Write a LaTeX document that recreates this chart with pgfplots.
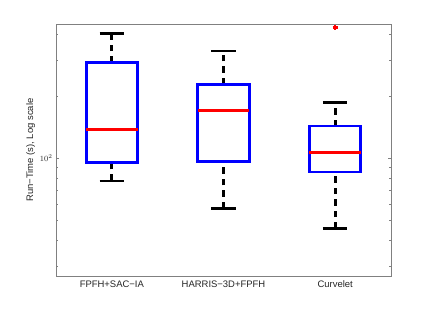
\documentclass[border=0pt]{standalone}
\usepackage{fontspec}
\setmainfont{Liberation Sans}
\usepackage{pgfplots}
\pgfplotsset{compat=1.18}
\definecolor{boxblue}{HTML}{0000FF}
\definecolor{medred}{HTML}{FF0000}
\definecolor{frame}{HTML}{808080}
\tikzset{
  wdash/.style={black, line width=2.7pt, dash pattern=on 6.5pt off 5pt},
  wcap/.style={black, line width=2.9pt},
  bbox/.style={boxblue, line width=2.9pt, line join=miter},
  bmed/.style={medred, line width=2.9pt},
}
\begin{document}
\begin{tikzpicture}
\path[use as bounding box] (0bp,0bp) rectangle (432bp,325bp);
\begin{axis}[
  at={(56bp,49bp)}, anchor=south west,
  scale only axis, width=335bp, height=252bp,
  ymode=log, ymin=26.8, ymax=449,
  xmin=0.5, xmax=3.5,
  xtick={1,2,3},
  xticklabels={FPFH+SAC−IA, HARRIS−3D+FPFH, Curvelet},
  ytick={100}, yticklabels={$10^2$},
  minor ytick={30,40,50,60,70,80,90,200,300,400},
  axis line style={frame, line width=0.8pt},
  major tick length=3bp, minor tick length=2bp,
  tick style={frame, line width=0.6pt},
  xtick style={draw=none},
  ticklabel style={font=\fontsize{9.5}{11}\selectfont, text=black!85},
  yticklabel style={font=\fontsize{8}{9}\selectfont},
  ylabel={Run−Time (s), Log scale},
  ylabel style={font=\fontsize{9.5}{11}\selectfont, text=black!85},
  ylabel shift=-2bp,
  xticklabel shift=1bp,
  clip=false,
]
% ---- FPFH+SAC-IA: 77.6 / 95.3 / 138 / 292 / 405
\addplot[wdash] coordinates {(1,77.6) (1,95.3)};
\addplot[wdash] coordinates {(1,292) (1,405)};
\addplot[wcap] coordinates {(0.89,77.6) (1.11,77.6)};
\addplot[wcap] coordinates {(0.89,405) (1.11,405)};
\addplot[bbox] coordinates {(0.77,95.3) (1.23,95.3) (1.23,292) (0.77,292)} -- cycle;
\addplot[bmed] coordinates {(0.77,138) (1.23,138)};
% ---- HARRIS-3D+FPFH: 57.2 / 96.7 / 171 / 229 / 332
\addplot[wdash] coordinates {(2,57.2) (2,96.7)};
\addplot[wdash] coordinates {(2,229) (2,332)};
\addplot[wcap] coordinates {(1.89,57.2) (2.11,57.2)};
\addplot[wcap] coordinates {(1.89,332) (2.11,332)};
\addplot[bbox] coordinates {(1.77,96.7) (2.23,96.7) (2.23,229) (1.77,229)} -- cycle;
\addplot[bmed] coordinates {(1.77,171) (2.23,171)};
% ---- Curvelet: 45.6 / 85.8 / 106.5 / 143.5 / 187, outlier 431
\addplot[wdash] coordinates {(3,45.6) (3,85.8)};
\addplot[wdash] coordinates {(3,143.5) (3,187)};
\addplot[wcap] coordinates {(2.89,45.6) (3.11,45.6)};
\addplot[wcap] coordinates {(2.89,187) (3.11,187)};
\addplot[bbox] coordinates {(2.77,85.8) (3.23,85.8) (3.23,143.5) (2.77,143.5)} -- cycle;
\addplot[bmed] coordinates {(2.77,106.5) (3.23,106.5)};
\addplot[only marks, mark=+, mark size=2.6pt, mark options={draw=medred, line width=2.6pt}]
  coordinates {(3,431)};
\end{axis}
\end{tikzpicture}
\end{document}
